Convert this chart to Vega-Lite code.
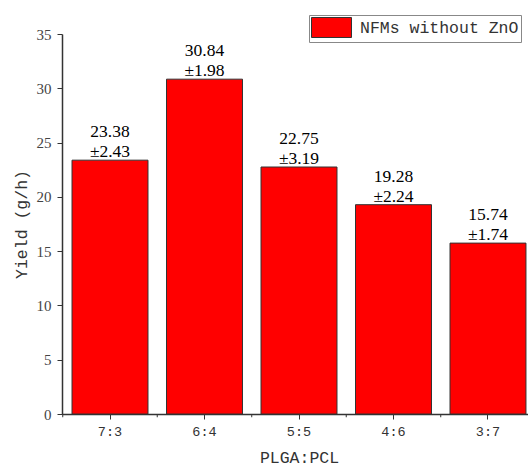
{
  "$schema": "https://vega.github.io/schema/vega-lite/v6.json",
  "width": 466,
  "height": 380,
  "autosize": "none",
  "padding": {"left": 62, "top": 34, "right": 0, "bottom": 55},
  "background": "white",
  "data": {"values": [
    {"ratio": "7:3", "yield": 23.38, "label": "23.38\n±2.43", "series": "NFMs without ZnO"},
    {"ratio": "6:4", "yield": 30.84, "label": "30.84\n±1.98", "series": "NFMs without ZnO"},
    {"ratio": "5:5", "yield": 22.75, "label": "22.75\n±3.19", "series": "NFMs without ZnO"},
    {"ratio": "4:6", "yield": 19.28, "label": "19.28\n±2.24", "series": "NFMs without ZnO"},
    {"ratio": "3:7", "yield": 15.74, "label": "15.74\n±1.74", "series": "NFMs without ZnO"}
  ]},
  "encoding": {
    "x": {
      "field": "ratio", "type": "ordinal",
      "sort": ["7:3", "6:4", "5:5", "4:6", "3:7"],
      "scale": {"range": [0, 474], "paddingInner": 0.196, "paddingOuter": 0.106},
      "title": "PLGA:PCL",
      "axis": {
        "labelAngle": 0, "labelFont": "Liberation Mono", "labelFontSize": 13.5, "labelColor": "#333",
        "labelPadding": 5, "tickSize": 5, "tickColor": "#333", "domainColor": "#333", "domainWidth": 1.5,
        "titleFont": "Liberation Mono", "titleFontSize": 16.5, "titleFontWeight": "normal", "titleColor": "#333",
        "titlePadding": 12
      }
    }
  },
  "layer": [
    {
      "mark": {"type": "bar", "stroke": "#333", "strokeWidth": 1},
      "encoding": {
        "y": {
          "field": "yield", "type": "quantitative",
          "scale": {"domain": [0, 35], "nice": false},
          "title": "Yield (g/h)",
          "axis": {
            "values": [0, 2.5, 5, 7.5, 10, 12.5, 15, 17.5, 20, 22.5, 25, 27.5, 30, 32.5, 35],
            "labelExpr": "datum.value % 5 === 0 ? datum.label : ''",
            "tickSize": {"condition": {"test": "datum.value % 5 === 0", "value": 5}, "value": 3},
            "grid": false, "tickColor": "#333", "domainColor": "#333", "domainWidth": 1.5,
            "labelFont": "Liberation Serif", "labelFontSize": 15, "labelColor": "#444", "labelPadding": 6,
            "titleFont": "Liberation Mono", "titleFontSize": 16.5, "titleFontWeight": "normal", "titleColor": "#333",
            "titlePadding": 7
          }
        },
        "color": {
          "field": "series", "type": "nominal",
          "scale": {"range": ["#ff0000"]},
          "legend": {
            "title": null, "orient": "none", "legendX": 247, "legendY": -19,
            "strokeColor": "#888", "fillColor": "white", "padding": 2,
            "symbolType": "M-2,-1H2V1H-2Z", "symbolSize": 400, "symbolOffset": 10,
            "symbolStrokeColor": "#333", "symbolStrokeWidth": 1,
            "labelFont": "Liberation Mono", "labelFontSize": 16.5, "labelColor": "#333",
            "labelOffset": 18, "labelLimit": 300
          }
        }
      }
    },
    {
      "mark": {"type": "rule", "stroke": "#333", "strokeWidth": 1},
      "encoding": {
        "x": {"field": "ratio", "type": "ordinal", "sort": ["7:3", "6:4", "5:5", "4:6", "3:7"], "bandPosition": -0.122},
        "y": {"datum": 0},
        "y2": {"datum": -0.3}
      }
    },
    {
      "mark": {"type": "text", "baseline": "alphabetic", "dy": -23, "font": "Liberation Serif", "fontSize": 17.5, "lineBreak": "\n", "lineHeight": 20, "color": "black"},
      "encoding": {
        "y": {"field": "yield", "type": "quantitative"},
        "text": {"field": "label"}
      }
    }
  ],
  "config": {"view": {"stroke": null}}
}
